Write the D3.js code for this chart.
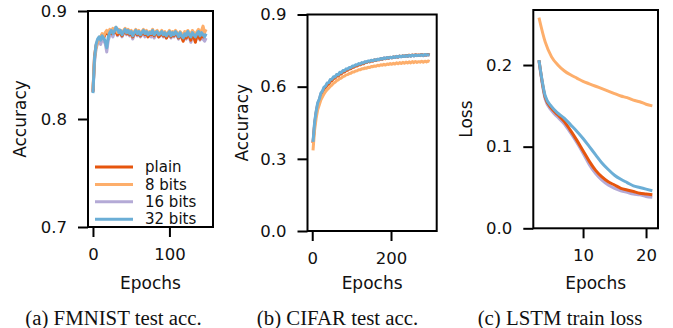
<!DOCTYPE html>
<html><head><meta charset="utf-8">
<script src="https://cdn.jsdelivr.net/npm/d3@7"></script>
<style>body{margin:0;background:#fff}svg{display:block}</style>
</head><body>
<svg id="c" width="673" height="328"></svg>
<script>
const seriesNames = ["plain", "8 bits", "16 bits", "32 bits"];
const seriesColors = ["#e6550d", "#fdae6b", "#b4aad6", "#6baed6"];
const drawOrder = [2, 0, 1, 3];

const fmnistEpochs = d3.range(0, 150, 2);
const fmnistPlain = [.825,.858,.868,.872,.874,.876,.878,.875,.879,.880,.878,.881,.879,.882,.880,.883,.878,.881,.879,.877,.880,.882,.879,.881,.878,.880,.876,.879,.881,.878,.880,.877,.879,.881,.878,.880,.876,.879,.878,.881,.877,.879,.880,.876,.878,.880,.877,.879,.875,.878,.880,.876,.879,.877,.880,.878,.875,.879,.876,.872,.878,.875,.880,.877,.873,.879,.876,.871,.878,.877,.874,.879,.876,.878,.877];
const fmnist8 = [.828,.855,.866,.871,.873,.876,.879,.877,.880,.882,.880,.883,.881,.884,.882,.885,.880,.883,.882,.879,.882,.884,.880,.883,.881,.882,.879,.881,.883,.880,.882,.879,.881,.883,.880,.882,.879,.881,.880,.883,.879,.881,.882,.879,.880,.882,.879,.881,.878,.880,.882,.879,.881,.880,.882,.880,.878,.881,.879,.877,.881,.879,.882,.880,.878,.882,.880,.878,.881,.883,.879,.882,.886,.880,.883];
const fmnist16 = [.826,.852,.865,.870,.872,.869,.874,.872,.870,.862,.873,.877,.879,.876,.880,.882,.877,.879,.881,.876,.879,.881,.878,.880,.877,.879,.874,.878,.880,.877,.879,.876,.878,.880,.876,.879,.877,.878,.876,.880,.875,.878,.879,.876,.877,.879,.876,.878,.875,.877,.879,.875,.878,.876,.879,.877,.874,.878,.875,.873,.877,.874,.878,.876,.871,.877,.875,.872,.876,.878,.873,.877,.874,.872,.875];
const fmnist32 = [.824,.856,.869,.874,.876,.873,.877,.875,.872,.866,.876,.880,.882,.879,.881,.885,.883,.880,.882,.878,.881,.883,.880,.882,.879,.881,.877,.880,.882,.879,.881,.878,.880,.882,.879,.881,.878,.880,.879,.882,.878,.880,.881,.878,.879,.881,.878,.880,.877,.879,.881,.877,.880,.878,.881,.879,.876,.880,.877,.875,.879,.877,.881,.878,.876,.880,.878,.876,.879,.881,.877,.880,.878,.876,.879];

const cifarEpochs = d3.range(2, 300, 4);
const cifarPlain = [.365,.440,.490,.525,.542,.565,.576,.590,.597,.607,.611,.622,.625,.634,.636,.645,.644,.654,.653,.661,.661,.668,.668,.675,.675,.681,.681,.687,.686,.692,.691,.697,.695,.701,.700,.705,.703,.708,.706,.711,.709,.713,.712,.716,.714,.718,.716,.720,.718,.722,.720,.723,.722,.725,.723,.727,.725,.728,.726,.730,.727,.731,.728,.732,.729,.733,.730,.732,.731,.734,.730,.733,.732,.734,.731];
const cifar8 = [.335,.420,.470,.505,.525,.545,.558,.570,.580,.588,.594,.602,.607,.614,.618,.625,.628,.634,.636,.642,.644,.649,.650,.655,.656,.661,.661,.665,.666,.670,.670,.674,.674,.678,.677,.681,.680,.684,.683,.686,.685,.689,.687,.691,.689,.693,.690,.694,.692,.696,.693,.697,.694,.699,.695,.700,.696,.701,.697,.702,.698,.703,.699,.704,.700,.705,.701,.704,.702,.706,.702,.706,.703,.707,.704];
const cifar16 = [.368,.447,.495,.530,.546,.570,.580,.595,.600,.612,.615,.627,.629,.638,.639,.649,.647,.657,.656,.665,.664,.671,.671,.678,.677,.684,.683,.689,.688,.694,.693,.699,.697,.703,.701,.706,.704,.709,.707,.711,.710,.714,.712,.716,.715,.719,.717,.720,.718,.722,.720,.723,.721,.725,.722,.726,.724,.727,.725,.728,.726,.729,.727,.730,.728,.731,.729,.730,.729,.732,.729,.732,.730,.733,.731];
const cifar32 = [.370,.452,.498,.534,.548,.573,.582,.598,.603,.615,.617,.630,.631,.641,.640,.651,.649,.660,.658,.667,.666,.674,.673,.680,.679,.686,.685,.691,.690,.696,.694,.700,.698,.704,.702,.707,.705,.710,.708,.712,.710,.714,.713,.717,.715,.719,.717,.721,.719,.722,.720,.724,.721,.726,.723,.727,.724,.728,.725,.729,.726,.730,.727,.731,.728,.732,.729,.731,.730,.733,.729,.734,.731,.733,.732];

const lstmEpochs = d3.range(3, 22);
const lstmPlain = [.206,.160,.147,.139,.131,.120,.108,.095,.082,.071,.063,.057,.053,.049,.047,.045,.043,.042,.041];
const lstm8 = [.258,.228,.210,.200,.193,.188,.184,.180,.177,.174,.171,.168,.165,.162,.160,.157,.155,.152,.150];
const lstm16 = [.205,.158,.144,.136,.128,.117,.105,.092,.078,.067,.059,.053,.049,.046,.044,.042,.041,.039,.038];
const lstm32 = [.206,.162,.149,.141,.135,.127,.119,.110,.100,.090,.080,.072,.065,.060,.056,.052,.050,.048,.046];

const fmnistYTicks = [0.7, 0.8, 0.9], fmnistXTicks = [0, 100];
const cifarYTicks = [0.0, 0.3, 0.6, 0.9], cifarXTicks = [0, 200];
const lstmYTicks = [0.0, 0.1, 0.2], lstmXTicks = [10, 20];

const svg = d3.select("#c");
const TICKFONT = "DejaVu Sans, sans-serif";

function panel(cfg) {
  const x = d3.scaleLinear().domain(cfg.xdom).range([cfg.left, cfg.right]);
  const y = d3.scaleLinear().domain(cfg.ydom).range([cfg.bottom, cfg.top]);
  const g = svg.append("g");
  const clipId = "clip" + cfg.id;
  svg.append("clipPath").attr("id", clipId).append("rect")
    .attr("x", cfg.left).attr("y", cfg.top).attr("width", cfg.right - cfg.left).attr("height", cfg.bottom - cfg.top);
  const line = d3.line().x((d, i) => x(cfg.epochs[i])).y(d => y(d));
  if (cfg.curve) line.curve(cfg.curve);
  const lg = g.append("g").attr("clip-path", `url(#${clipId})`);
  drawOrder.forEach(k => {
    lg.append("path").attr("d", line(cfg.series[k])).attr("fill", "none")
      .attr("stroke", seriesColors[k]).attr("stroke-width", 3).attr("stroke-linejoin", "round").attr("stroke-linecap", "butt");
  });
  const yAxis = d3.axisLeft(y).tickValues(cfg.yticks).tickFormat(d3.format(".1f")).tickSize(10).tickPadding(11).tickSizeOuter(0);
  const xAxis = d3.axisBottom(x).tickValues(cfg.xticks).tickFormat(d3.format("d")).tickSize(10).tickPadding(11).tickSizeOuter(0);
  const ya = g.append("g").attr("transform", `translate(${cfg.left},0)`).call(yAxis);
  const xa = g.append("g").attr("transform", `translate(0,${cfg.bottom})`).call(xAxis);
  [ya, xa].forEach(a => {
    a.select(".domain").remove();
    a.selectAll(".tick line").attr("stroke", "#000").attr("stroke-width", 2);
    a.selectAll(".tick text").attr("fill", "#111").style("font-family", TICKFONT).style("font-size", "16.5px");
  });
  g.append("rect").attr("x", cfg.left).attr("y", cfg.top).attr("width", cfg.right - cfg.left).attr("height", cfg.bottom - cfg.top)
    .attr("fill", "none").attr("stroke", "#000").attr("stroke-width", 2);
  g.append("text").attr("x", (cfg.left + cfg.right) / 2).attr("y", 283).attr("dy", "0.35em")
    .attr("text-anchor", "middle").style("font-family", TICKFONT).style("font-size", "17px").attr("fill", "#111").text("Epochs");
  g.append("text").attr("transform", `translate(${cfg.ylabX},${(cfg.top + cfg.bottom) / 2}) rotate(-90)`).attr("dy", "0.35em")
    .attr("text-anchor", "middle").style("font-family", TICKFONT).style("font-size", "17px").attr("fill", "#111").text(cfg.ylabel);
  g.append("text").attr("x", cfg.capX).attr("y", 325).attr("text-anchor", "middle")
    .style("font-family", "Liberation Serif, Times New Roman, serif").style("font-size", "20.8px").attr("fill", "#111").text(cfg.caption);
  return {x, y, g};
}

const pa = panel({id: "a", left: 88, right: 213, top: 11, bottom: 227, xdom: [-6.5, 157], ydom: [0.7, 0.9],
  epochs: fmnistEpochs, series: [fmnistPlain, fmnist8, fmnist16, fmnist32], yticks: fmnistYTicks, xticks: fmnistXTicks,
  ylabel: "Accuracy", ylabX: 20, caption: "(a) FMNIST test acc.", capX: 113.5});
panel({id: "b", left: 307.5, right: 436.7, top: 14.5, bottom: 231, xdom: [-12, 316], ydom: [0, 0.9],
  epochs: cifarEpochs, series: [cifarPlain, cifar8, cifar16, cifar32], yticks: cifarYTicks, xticks: cifarXTicks,
  ylabel: "Accuracy", ylabX: 242, caption: "(b) CIFAR test acc.", capX: 337.5});
panel({id: "c", left: 533.3, right: 658, top: 10, bottom: 228.3, xdom: [2.1, 21.9], ydom: [0, 0.2674],
  epochs: lstmEpochs, series: [lstmPlain, lstm8, lstm16, lstm32], yticks: lstmYTicks, xticks: lstmXTicks,
  ylabel: "Loss", ylabX: 466, caption: "(c) LSTM train loss", capX: 560, curve: d3.curveMonotoneX});

// legend in panel (a)
const leg = pa.g.append("g");
seriesNames.forEach((name, i) => {
  const yy = 167 + i * 17.4;
  leg.append("line").attr("x1", 95).attr("x2", 133).attr("y1", yy).attr("y2", yy)
    .attr("stroke", seriesColors[i]).attr("stroke-width", 3);
  leg.append("text").attr("x", 145).attr("y", yy).attr("dy", "0.35em").style("font-family", TICKFONT)
    .style("font-size", "15px").attr("fill", "#111").text(name);
});
</script>
</body></html>
